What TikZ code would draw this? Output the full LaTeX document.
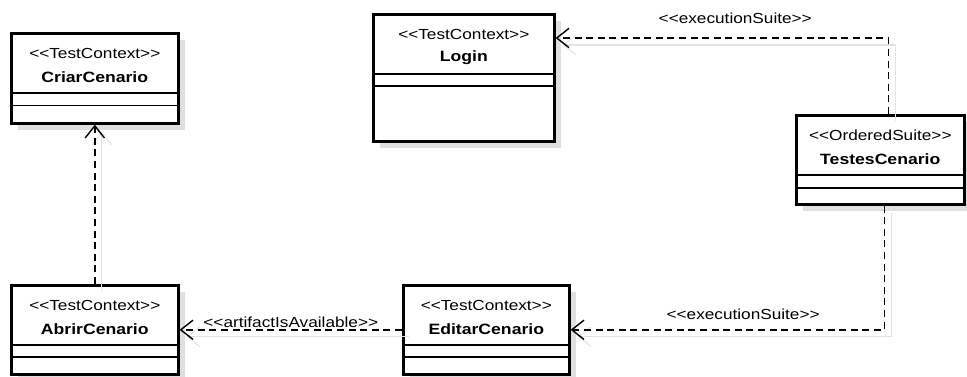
\documentclass[tikz,border=0pt]{standalone}
\usepackage{fontspec}
\setmainfont{Liberation Sans}[FakeStretch=1.18, Ligatures=TeXOff]
\usetikzlibrary{positioning}
\usetikzlibrary{arrows.meta}
\usetikzlibrary{shadows}

\tikzset{
  classbox/.style={draw, line width=1.5pt, fill=white, anchor=north west, inner sep=0pt,
    drop shadow={shadow xshift=0.14cm, shadow yshift=-0.14cm, fill=gray!25, opacity=1}},
  stereo/.style={font=\fontsize{8.3}{10}\selectfont, inner sep=0pt},
  cname/.style={font=\fontsize{8.5}{10}\selectfont\bfseries, inner sep=0pt},
  compart/.style={line width=0.8pt},
  dep/.style={line width=0.8pt, dash pattern=on 4pt off 2.6pt,
    -{Straight Barb[length=7pt,width=11pt]},
    preaction={draw=gray!22, solid, line width=0.6pt,
      transform canvas={shift={(0.14cm,-0.14cm)}}}},
  deplabel/.style={font=\fontsize{8.3}{10}\selectfont, inner sep=1pt}
}

\begin{document}
\begin{tikzpicture}[x=0.02cm, y=-0.02cm]
\useasboundingbox (0,0) rectangle (967,377);

% classes
\node[classbox, minimum width=3.34cm, minimum height=1.8cm] (criar) at (10,32) {};
\node[classbox, minimum width=3.62cm, minimum height=2.54cm] (login) at (372,13) {};
\node[classbox, minimum width=3.36cm, minimum height=1.78cm] (testes) at (795,114) {};
\node[classbox, minimum width=3.34cm, minimum height=1.78cm] (abrir) at (10,284) {};
\node[classbox, minimum width=3.32cm, minimum height=1.78cm] (editar) at (402,284) {};

\node[stereo] (criar-st) at ([yshift=-0.42cm]criar.north) {<<TestContext>>};
\node[cname] (criar-nm) at ([yshift=-0.9cm]criar.north) {CriarCenario};
\node[stereo] (login-st) at ([yshift=-0.42cm]login.north) {<<TestContext>>};
\node[cname] (login-nm) at ([yshift=-0.9cm]login.north) {Login};
\node[stereo] (testes-st) at ([yshift=-0.42cm]testes.north) {<<OrderedSuite>>};
\node[cname] (testes-nm) at ([yshift=-0.9cm]testes.north) {TestesCenario};
\node[stereo] (abrir-st) at ([yshift=-0.42cm]abrir.north) {<<TestContext>>};
\node[cname] (abrir-nm) at ([yshift=-0.9cm]abrir.north) {AbrirCenario};
\node[stereo] (editar-st) at ([yshift=-0.42cm]editar.north) {<<TestContext>>};
\node[cname] (editar-nm) at ([yshift=-0.9cm]editar.north) {EditarCenario};

% compartments
\draw[compart] ([yshift=-1.22cm]criar.north west) -- ([yshift=-1.22cm]criar.north east);
\draw[compart] ([yshift=-1.47cm]criar.north west) -- ([yshift=-1.47cm]criar.north east);
\draw[compart] ([yshift=-1.22cm]login.north west) -- ([yshift=-1.22cm]login.north east);
\draw[compart] ([yshift=-1.46cm]login.north west) -- ([yshift=-1.46cm]login.north east);
\draw[compart] ([yshift=-1.22cm]testes.north west) -- ([yshift=-1.22cm]testes.north east);
\draw[compart] ([yshift=-1.48cm]testes.north west) -- ([yshift=-1.48cm]testes.north east);
\draw[compart] ([yshift=-1.22cm]abrir.north west) -- ([yshift=-1.22cm]abrir.north east);
\draw[compart] ([yshift=-1.46cm]abrir.north west) -- ([yshift=-1.46cm]abrir.north east);
\draw[compart] ([yshift=-1.22cm]editar.north west) -- ([yshift=-1.22cm]editar.north east);
\draw[compart] ([yshift=-1.46cm]editar.north west) -- ([yshift=-1.46cm]editar.north east);

% dependencies
\draw[dep] (abrir.north) -- (criar.south);
\draw[dep] (editar.west) -- node[deplabel, above=0pt] (lbl-avail) {<<artifactIsAvailable>>} (abrir.east);
\draw[dep] ([xshift=0.16cm]testes.north) |- node[deplabel, pos=0.73, above=0.24cm] (lbl-suite1) {<<executionSuite>>} ([yshift=-0.5cm]login.north east);
\draw[dep] ([xshift=0.08cm]testes.south) |- node[deplabel, pos=0.725, above=0.16cm] (lbl-suite2) {<<executionSuite>>} (editar.east);
\end{tikzpicture}
\end{document}
